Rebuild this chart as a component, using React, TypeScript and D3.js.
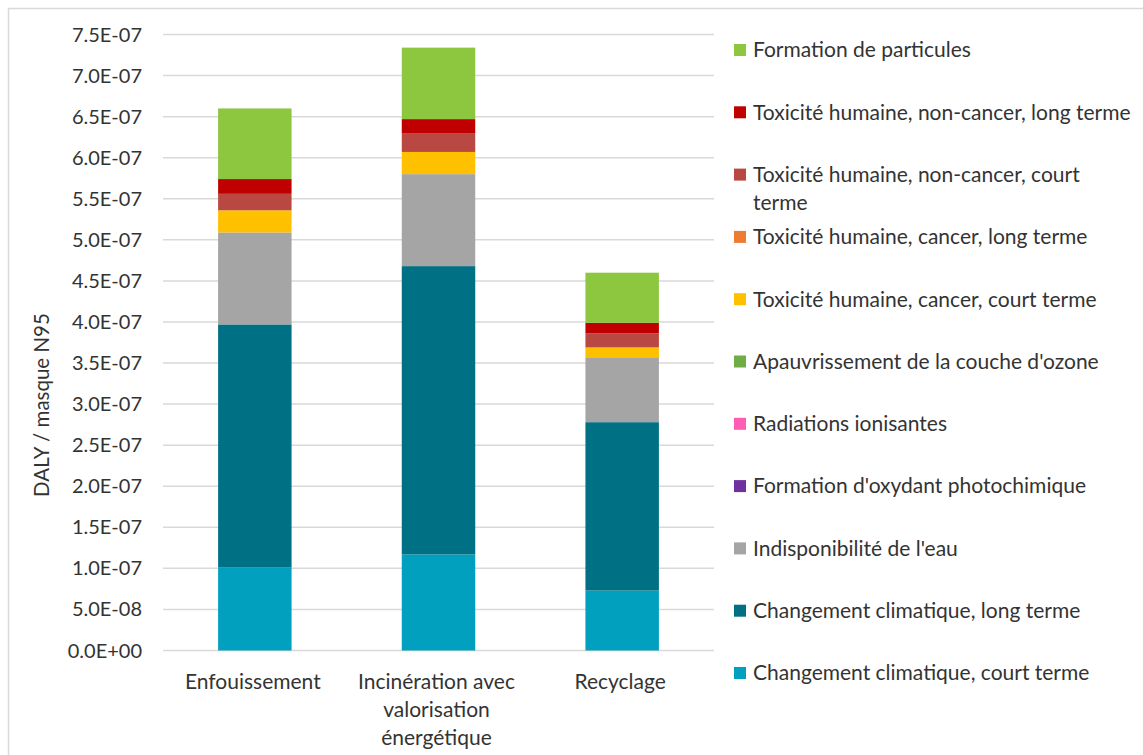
import React from "react";
import * as d3 from "d3";

// Scenarios on the x axis (second and later lines are label wraps)
const scenarios = ["Enfouissement", "Incinération avec valorisation énergétique", "Recyclage"];
const scenarioLines = [["Enfouissement"], ["Incinération avec", "valorisation", "énergétique"], ["Recyclage"]];

// Impact categories, bottom of the stack first
const categories = [
  "Changement climatique, court terme",
  "Changement climatique, long terme",
  "Indisponibilité de l'eau",
  "Formation d'oxydant photochimique",
  "Radiations ionisantes",
  "Apauvrissement de la couche d'ozone",
  "Toxicité humaine, cancer, court terme",
  "Toxicité humaine, cancer, long terme",
  "Toxicité humaine, non-cancer, court terme",
  "Toxicité humaine, non-cancer, long terme",
  "Formation de particules",
];

const colors = [
  "#00A0BE",
  "#007184",
  "#A5A5A5",
  "#7030A0",
  "#FF5CB4",
  "#70AD47",
  "#FFC000",
  "#ED7D31",
  "#B94842",
  "#C00000",
  "#8DC63F",
];

// DALY per N95 mask, one value per category (same order as categories)
const enfouissement = [1.01e-7, 2.96e-7, 1.12e-7, 0, 0, 0, 0.27e-7, 0, 0.2e-7, 0.18e-7, 0.86e-7];
const incineration = [1.17e-7, 3.51e-7, 1.12e-7, 0, 0, 0, 0.27e-7, 0, 0.23e-7, 0.17e-7, 0.87e-7];
const recyclage = [0.73e-7, 2.05e-7, 0.79e-7, 0, 0, 0, 0.12e-7, 0, 0.17e-7, 0.13e-7, 0.61e-7];

const yTicks = d3.range(0, 16).map((i) => i * 0.5e-7);

const W = 1143;
const H = 755;
const plot = { left: 163, right: 714, top: 34.5, bottom: 650.5 };
const FONT = "Lato, 'Open Sans', sans-serif";
const TEXT = "#333333";

function fmtExp(v: number) {
  if (v === 0) return "0.0E+00";
  const e = Math.floor(Math.log10(v) + 1e-9);
  const m = v / Math.pow(10, e);
  const sign = e < 0 ? "-" : "+";
  return `${m.toFixed(1)}E${sign}${String(Math.abs(e)).padStart(2, "0")}`;
}

export default function App() {
  const table = [enfouissement, incineration, recyclage].map((vals, i) => {
    const row: Record<string, any> = { scenario: scenarios[i] };
    categories.forEach((c, j) => (row[c] = vals[j]));
    return row;
  });
  const stacked = d3.stack<any>().keys(categories)(table);

  const x = d3.scaleBand().domain(scenarios).range([plot.left, plot.right]).paddingInner(0.6).paddingOuter(0.3);
  const y = d3.scaleLinear().domain([0, 7.5e-7]).range([plot.bottom, plot.top]);

  const legendX = 734;
  const legendTop = 50;
  const legendStep = 62.3;
  const legendItems = categories.map((c, i) => ({ c, color: colors[i] })).reverse();

  return (
    <svg
      width={W}
      height={H}
      style={{ position: "absolute", left: 0, top: 0, background: "#fff" }}
      fontFamily={FONT}
    >
      <rect x={8.5} y={8.5} width={W + 20} height={H + 20} fill="#fff" stroke="#d9d9d9" strokeWidth={1.5} />

      {yTicks.map((t) => (
        <g key={t}>
          <line x1={plot.left} x2={plot.right} y1={y(t)} y2={y(t)} stroke="#d9d9d9" strokeWidth={1.5} />
          <text x={142} y={y(t)} dy="0.35em" textAnchor="end" fontSize={20} fill={TEXT}>
            {fmtExp(t)}
          </text>
        </g>
      ))}

      <text
        transform={`translate(42,405) rotate(-90)`}
        textAnchor="middle"
        dy="0.35em"
        fontSize={20.5}
        fill={TEXT}
      >
        DALY / masque N95
      </text>

      {stacked.map((layer, li) => (
        <g key={layer.key} fill={colors[li]}>
          {layer.map((d, i) =>
            d[1] - d[0] > 0 ? (
              <rect
                key={i}
                x={x(scenarios[i])}
                width={x.bandwidth()}
                y={y(d[1])}
                height={y(d[0]) - y(d[1])}
              />
            ) : null
          )}
        </g>
      ))}

      {scenarioLines.map((lines, i) => (
        <text key={i} textAnchor="middle" fontSize={21} fill={TEXT}>
          {lines.map((l, k) => (
            <tspan key={k} x={(x(scenarios[i]) as number) + x.bandwidth() / 2 - 2} y={682 + k * 28} dy="0.35em">
              {l}
            </tspan>
          ))}
        </text>
      ))}

      {legendItems.map((it, i) => {
        const cy = legendTop + i * legendStep;
        const wrap = it.c === "Toxicité humaine, non-cancer, court terme";
        return (
          <g key={it.c}>
            <rect x={legendX} y={cy - 6} width={12} height={12} fill={it.color} />
            <text fontSize={21} fill={TEXT}>
              {wrap ? (
                <>
                  <tspan x={753} y={cy} dy="0.35em">Toxicité humaine, non-cancer, court</tspan>
                  <tspan x={753} y={cy + 28} dy="0.35em">terme</tspan>
                </>
              ) : (
                <tspan x={753} y={cy} dy="0.35em">{it.c}</tspan>
              )}
            </text>
          </g>
        );
      })}
    </svg>
  );
}
